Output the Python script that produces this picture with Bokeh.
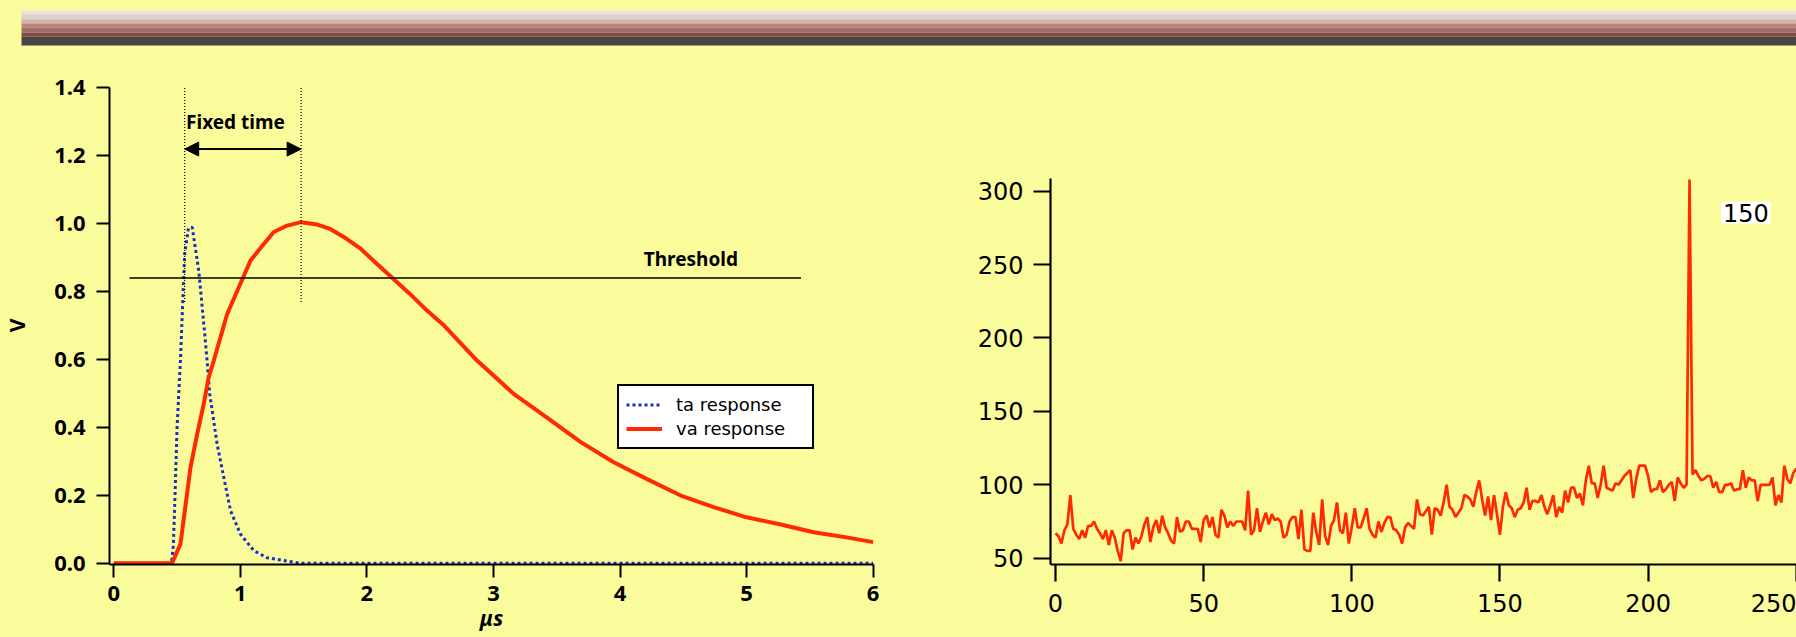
from bokeh.plotting import figure
from bokeh.layouts import column, row
from bokeh.models import (Range1d, Label, Arrow, NormalHead, Legend, LegendItem,
                          FixedTicker)
from bokeh.embed import file_html
from bokeh.resources import INLINE

# ---------------- data ----------------
# left chart: detector responses (x in microseconds, y in volts)
ta_x = [0.0, 0.455, 0.47, 0.48, 0.50, 0.527, 0.548, 0.56, 0.59, 0.62, 0.635, 0.671,
        0.716, 0.737, 0.758, 0.816, 0.869, 0.922, 1.0, 1.106, 1.21, 1.34, 1.47, 6.0]
ta_y = [0.0, 0.0, 0.05, 0.155, 0.40, 0.60, 0.80, 0.91, 0.985, 0.988, 0.95, 0.861,
        0.684, 0.596, 0.498, 0.351, 0.253, 0.155, 0.086, 0.037, 0.016, 0.008, 0.0, 0.0]

va_x = [0.0, 0.46, 0.527, 0.606, 0.659, 0.711, 0.75, 0.79, 0.896, 1.0, 1.08, 1.185,
        1.264, 1.37, 1.48, 1.607, 1.71, 1.84, 1.95, 2.08, 2.21, 2.34, 2.475, 2.61,
        2.87, 3.16, 3.42, 3.69, 3.95, 4.21, 4.48, 4.74, 5.0, 5.27, 5.53, 5.79, 6.0]
va_y = [0.0, 0.0, 0.057, 0.282, 0.38, 0.469, 0.547, 0.596, 0.733, 0.822, 0.89, 0.939,
        0.974, 0.993, 1.003, 0.996, 0.983, 0.954, 0.925, 0.88, 0.836, 0.792, 0.743, 0.699,
        0.596, 0.498, 0.429, 0.356, 0.297, 0.248, 0.199, 0.165, 0.135, 0.114, 0.091, 0.076, 0.062]

series_labels = ["ta response", "va response"]
threshold_level = 0.839
threshold_span = [0.124, 5.43]
fixed_times = [0.56, 1.48]

left_x_ticks = [0, 1, 2, 3, 4, 5, 6]
left_y_ticks = [0.0, 0.2, 0.4, 0.6, 0.8, 1.0, 1.2, 1.4]
left_y_tick_labels = ["0.0", "0.2", "0.4", "0.6", "0.8", "1.0", "1.2", "1.4"]

# right chart: spectrum counts per channel
spec_y = [67, 65, 60, 69, 73, 93, 70, 66, 63, 69,
          64, 72, 72, 75, 70, 67, 63, 69, 59, 69,
          64, 55, 48, 67, 69, 69, 56, 64, 60, 65,
          73, 78, 61, 71, 76, 67, 79, 71, 67, 62,
          60, 78, 68, 69, 75, 75, 70, 70, 70, 61,
          76, 79, 71, 78, 66, 64, 83, 79, 71, 75,
          72, 75, 75, 75, 69, 96, 66, 69, 84, 68,
          75, 81, 73, 80, 76, 77, 75, 64, 66, 75,
          78, 78, 63, 83, 56, 55, 55, 81, 68, 59,
          90, 65, 59, 72, 76, 88, 69, 67, 81, 60,
          71, 84, 71, 71, 77, 84, 70, 66, 64, 75,
          68, 74, 78, 78, 70, 69, 66, 60, 71, 74,
          72, 70, 90, 80, 79, 82, 85, 66, 84, 83,
          79, 88, 100, 85, 83, 78, 81, 84, 93, 92,
          90, 85, 95, 103, 90, 79, 92, 76, 93, 80,
          66, 85, 95, 86, 84, 78, 83, 84, 88, 98,
          83, 89, 89, 88, 93, 85, 80, 86, 93, 78,
          85, 81, 96, 88, 98, 98, 91, 94, 86, 103,
          113, 101, 101, 91, 100, 113, 98, 97, 96, 101,
          100, 103, 106, 108, 110, 91, 104, 113, 113, 113,
          106, 95, 97, 97, 103, 95, 97, 100, 102, 89,
          105, 101, 98, 100, 308, 107, 110, 106, 103, 104,
          106, 106, 98, 102, 95, 95, 100, 100, 101, 96,
          97, 97, 110, 98, 105, 103, 103, 89, 100, 100,
          100, 100, 105, 86, 93, 88, 113, 104, 101, 108,
          111, 109]
spec_x = list(range(len(spec_y)))
peak_label = "150"
right_x_ticks = [0, 50, 100, 150, 200, 250]
right_y_ticks = [50, 100, 150, 200, 250, 300]

# banner strip rows (pixel rows of the picture strip at the top)
banner_row_top = [10, 14, 19, 23, 27, 32, 36]
banner_row_bottom = [14, 19, 23, 27, 32, 36, 45]
banner_row_color = ["#f6dede", "#d6d2d2", "#d8aeaa", "#b88682", "#a46c64", "#864a46", "#464444"]

# ---------------- styles ----------------
BG = "#fafc9c"
RED = "#ff2a00"
BLUE = "#1a2ec0"

# ---------------- banner ----------------
p0 = figure(width=1796, height=60, x_range=Range1d(0, 1796), y_range=Range1d(60, 0),
            output_backend="svg", toolbar_location=None,
            min_border=0, background_fill_color=BG, border_fill_color=BG,
            outline_line_color=None)
p0.axis.visible = False
p0.grid.visible = False
p0.quad(left=21, right=1796, top=banner_row_top, bottom=banner_row_bottom,
        fill_color=banner_row_color, line_color=None)

# ---------------- left chart ----------------
p1 = figure(width=940, height=577, x_range=Range1d(-0.034, 6.003),
            y_range=Range1d(-0.0038, 1.402), output_backend="svg", toolbar_location=None,
            min_border_left=109, min_border_right=67, min_border_top=26, min_border_bottom=73,
            background_fill_color=BG, border_fill_color=BG, outline_line_color=None)
p1.grid.visible = False
for ax in (p1.xaxis[0], p1.yaxis[0]):
    ax.axis_line_width = 2
    ax.axis_line_color = "black"
    ax.major_tick_line_width = 2
    ax.major_tick_line_color = "black"
    ax.major_tick_out = 13
    ax.major_tick_in = 0
    ax.minor_tick_line_color = None
    ax.major_label_text_font = "Noto Sans"
    ax.major_label_text_font_style = "bold"
    ax.major_label_text_font_size = "22px"
    ax.major_label_text_color = "black"
    ax.axis_label_text_font = "Noto Sans"
    ax.axis_label_text_font_size = "21px"
    ax.axis_label_text_color = "black"
p1.xaxis[0].major_label_standoff = 8
p1.yaxis[0].major_label_standoff = 11
p1.xaxis[0].axis_label = "μs"
p1.xaxis[0].axis_label_text_font_style = "bold italic"
p1.xaxis[0].axis_label_standoff = 0
p1.yaxis[0].axis_label = "V"
p1.yaxis[0].axis_label_text_font_style = "bold"
p1.yaxis[0].axis_label_standoff = 20
p1.yaxis[0].bounds = (-0.0038, 1.4)
p1.xaxis[0].ticker = FixedTicker(ticks=left_x_ticks)
p1.yaxis[0].ticker = FixedTicker(ticks=left_y_ticks)
p1.yaxis[0].major_label_overrides = {t: l for t, l in zip(left_y_ticks, left_y_tick_labels)}

r_ta = p1.line(ta_x, ta_y, line_color=BLUE, line_width=3, line_dash="3 3")
r_va = p1.line(va_x, va_y, line_color=RED, line_width=4)

p1.segment(x0=threshold_span[0], y0=threshold_level, x1=threshold_span[1], y1=threshold_level,
           line_color="black", line_width=1.5)
p1.segment(x0=fixed_times, y0=[0.768, 0.768], x1=fixed_times, y1=[1.415, 1.415],
           line_color="black", line_width=1.2, line_dash="1 2")
p1.add_layout(Arrow(start=NormalHead(size=14, fill_color="black", line_color="black"),
                    end=NormalHead(size=14, fill_color="black", line_color="black"),
                    x_start=fixed_times[0], y_start=1.218, x_end=fixed_times[1], y_end=1.218,
                    line_width=2, line_color="black"))
p1.add_layout(Label(x=0.961, y=1.297, text="Fixed time", text_font="Noto Sans",
                    text_font_style="bold", text_font_size="19px", text_align="center",
                    text_baseline="middle", text_color="black"))
p1.add_layout(Label(x=4.56, y=0.896, text="Threshold", text_font="Noto Sans",
                    text_font_style="bold", text_font_size="19px", text_align="center",
                    text_baseline="middle", text_color="black"))

legend = Legend(items=[LegendItem(label=series_labels[0], renderers=[r_ta]),
                       LegendItem(label=series_labels[1], renderers=[r_va])],
                location=(508, 115), border_line_color="black", border_line_width=2,
                border_line_alpha=1.0,
                background_fill_color="white", background_fill_alpha=1.0,
                label_text_font="DejaVu Sans", label_text_font_size="18px",
                label_text_color="black", glyph_width=36, glyph_height=23,
                label_height=23, label_width=129, label_standoff=14, padding=7,
                spacing=1, margin=0)
p1.add_layout(legend)

# ---------------- right chart ----------------
p2 = figure(width=856, height=577, x_range=Range1d(-1.69, 250.1),
            y_range=Range1d(45.7, 371.3), output_backend="svg", toolbar_location=None,
            min_border_left=110, min_border_right=0, min_border_top=26, min_border_bottom=73,
            background_fill_color=BG, border_fill_color=BG, outline_line_color=None)
p2.grid.visible = False
for ax in (p2.xaxis[0], p2.yaxis[0]):
    ax.axis_line_width = 2.2
    ax.axis_line_color = "black"
    ax.major_tick_line_width = 2.2
    ax.major_tick_line_color = "black"
    ax.major_tick_out = 17
    ax.major_tick_in = 0
    ax.minor_tick_line_color = None
    ax.major_label_text_font = "DejaVu Sans"
    ax.major_label_text_font_size = "24px"
    ax.major_label_text_color = "black"
p2.xaxis[0].major_label_standoff = 12
p2.yaxis[0].major_label_standoff = 10
p2.yaxis[0].bounds = (45.7, 308.4)
p2.xaxis[0].ticker = FixedTicker(ticks=right_x_ticks)
p2.yaxis[0].ticker = FixedTicker(ticks=right_y_ticks)

p2.line(spec_x, spec_y, line_color=RED, line_width=2.7)
p2.add_layout(Label(x=233, y=285.4, text=peak_label, text_font="DejaVu Sans",
                    text_font_size="24px", text_align="center", text_baseline="middle",
                    text_color="black", background_fill_color="white",
                    background_fill_alpha=1.0, padding=2))

layout = column(p0, row(p1, p2, spacing=0, styles={"background-color": BG}),
                spacing=0, styles={"background-color": BG})
html = file_html(layout, INLINE)
html = html.replace("<body>", '<body style="margin:0;background-color:%s">' % BG)
open("out.html", "w").write(html)
